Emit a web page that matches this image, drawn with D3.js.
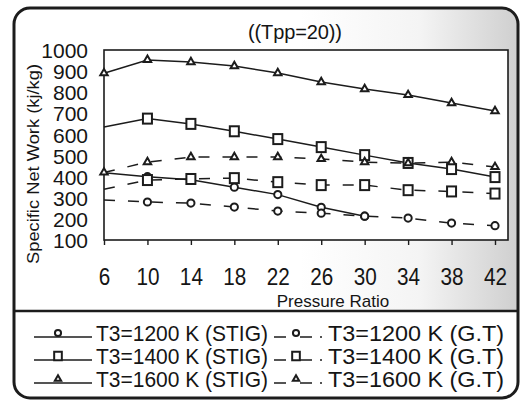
<!DOCTYPE html>
<html>
<head>
<meta charset="utf-8">
<script src="https://cdn.jsdelivr.net/npm/d3@7"></script>
<style>
  body { margin: 0; background: #fff; }
  svg text { font-family: "Liberation Sans", Arial, sans-serif; fill: #151515; }
</style>
</head>
<body>
<svg id="chart" width="525" height="405"></svg>
<script>
// pressure ratios on the x axis
const pressureRatio = [6, 10, 14, 18, 22, 26, 30, 34, 38, 42];
const yTicks = [100, 200, 300, 400, 500, 600, 700, 800, 900, 1000];

// specific net work (kJ/kg)
const stig1200 = [418, 400, 385, 350, 315, 255, 213];
const stig1400 = [635, 675, 650, 615, 578, 540, 502, 465, 436, 398];
const stig1600 = [890, 953, 943, 924, 891, 848, 815, 787, 749, 711];
const gt1200 = [290, 280, 275, 256, 237, 227, 213, 204, 180, 168];
const gt1400 = [340, 384, 389, 393, 374, 360, 360, 336, 330, 320];
const gt1600 = [420, 469, 493, 493, 493, 484, 469, 464, 469, 446];

const seriesNames = ["T3=1200 K (STIG)", "T3=1400 K (STIG)", "T3=1600 K (STIG)",
                     "T3=1200 K (G.T)", "T3=1400 K (G.T)", "T3=1600 K (G.T)"];

let series = [
  {name: seriesNames[0], values: stig1200, shape: "circle", dashed: false},
  {name: seriesNames[1], values: stig1400, shape: "square", dashed: false},
  {name: seriesNames[2], values: stig1600, shape: "triangle", dashed: false},
  {name: seriesNames[3], values: gt1200, shape: "circle", dashed: true},
  {name: seriesNames[4], values: gt1400, shape: "square", dashed: true},
  {name: seriesNames[5], values: gt1600, shape: "triangle", dashed: true}
];

let svg = d3.select("#chart");
let ink = "#1c1c1c";
let plot = {left: 104, top: 50, right: 508, bottom: 240};

let x = d3.scaleLinear().domain([6, 42]).range([plot.left, 495]);
let y = d3.scaleLinear().domain([100, 1000]).range([plot.bottom, plot.top]);

// scan shading on the right hand side
let defs = svg.append("defs");
let grad = defs.append("linearGradient").attr("id", "shade").attr("x1", "0").attr("x2", "1").attr("y1", "0").attr("y2", "0");
grad.append("stop").attr("offset", "0").attr("stop-color", "#fff");
grad.append("stop").attr("offset", "0.55").attr("stop-color", "#f4f4f4");
grad.append("stop").attr("offset", "1").attr("stop-color", "#cfcfcf");
defs.append("clipPath").attr("id", "frameClip")
  .append("rect").attr("x", 14).attr("y", 8).attr("width", 504).attr("height", 390).attr("rx", 16);

svg.append("rect").attr("x", 300).attr("y", 8).attr("width", 218).attr("height", 303)
  .attr("fill", "url(#shade)").attr("clip-path", "url(#frameClip)");

// plot area
svg.append("rect")
  .attr("x", plot.left).attr("y", plot.top)
  .attr("width", plot.right - plot.left).attr("height", plot.bottom - plot.top)
  .attr("fill", "#fff").attr("stroke", ink).attr("stroke-width", 1.6);

// axes
let xAxis = svg.append("g")
  .attr("transform", `translate(0, ${plot.bottom})`)
  .call(d3.axisBottom(x).tickValues(pressureRatio).tickSizeInner(5).tickSizeOuter(0).tickPadding(2));
xAxis.select(".domain").remove();
xAxis.selectAll("line").attr("stroke", ink).attr("stroke-width", 1.4);
xAxis.selectAll("text")
  .attr("y", 45).attr("dy", 0)
  .attr("transform", "scale(0.9,1)")
  .style("font-size", "23px").attr("fill", "#151515");

let yAxis = svg.append("g")
  .attr("transform", `translate(88, 0)`)
  .call(d3.axisLeft(y).tickValues(yTicks).tickFormat(d3.format("d")).tickSize(0).tickPadding(0));
yAxis.select(".domain").remove();
yAxis.selectAll("text")
  .attr("x", 0).attr("dy", "0.36em")
  .style("font-size", "21px").attr("fill", "#151515");

// title and axis titles
svg.append("text").attr("x", 295).attr("y", 39).attr("text-anchor", "middle")
  .style("font-size", "20px").attr("textLength", 94).text("((Tpp=20))");
svg.append("text").attr("x", 333).attr("y", 307).attr("text-anchor", "middle")
  .style("font-size", "17px").text("Pressure Ratio");
svg.append("text")
  .attr("transform", `translate(39, 164) rotate(-90)`)
  .attr("text-anchor", "middle")
  .style("font-size", "16px")
  .attr("textLength", 200).attr("lengthAdjust", "spacingAndGlyphs")
  .text("Specific Net Work (kj/kg)");

// lines
let line = d3.line().x((d) => x(d.x)).y((d) => y(d.v));
let g = svg.append("g");
for (let s of series) {
  let pts = s.values.map((v, i) => ({x: pressureRatio[i], v: v}));
  s.points = pts;
  g.append("path")
    .datum(pts)
    .attr("d", line)
    .attr("fill", "none")
    .attr("stroke", ink)
    .attr("stroke-width", 1.5)
    .attr("stroke-dasharray", s.dashed ? "11,13" : null);
}

let drawMarker = (sel, shape, cx, cy, scale) => {
  let k = scale || 1;
  if (shape === "circle") {
    sel.append("circle").attr("cx", cx).attr("cy", cy).attr("r", 3.6 * k)
      .attr("fill", "#fff").attr("stroke", ink).attr("stroke-width", 2);
  } else if (shape === "square") {
    sel.append("rect").attr("x", cx - 4.5 * k).attr("y", cy - 5 * k).attr("width", 9 * k).attr("height", 10 * k)
      .attr("fill", "#fff").attr("stroke", ink).attr("stroke-width", 2);
  } else {
    sel.append("path").attr("d", d3.symbol(d3.symbolTriangle, 24 * k * k)())
      .attr("transform", `translate(${cx}, ${cy})`)
      .attr("fill", "#fff").attr("stroke", ink).attr("stroke-width", 2);
  }
};

for (let s of series) {
  for (let p of s.points) {
    if (p.x === 6 && s.shape !== "triangle") continue;
    drawMarker(g, s.shape, x(p.x), y(p.v));
  }
}

// frame and legend box
svg.append("rect").attr("x", 14).attr("y", 8).attr("width", 504).attr("height", 390).attr("rx", 16)
  .attr("fill", "none").attr("stroke", ink).attr("stroke-width", 3);
svg.append("line").attr("x1", 14).attr("x2", 518).attr("y1", 311).attr("y2", 311)
  .attr("stroke", ink).attr("stroke-width", 2.5);

let legendRows = [332, 355, 378];
series.forEach((s, i) => {
  let row = legendRows[i % 3];
  let col = i < 3 ? 0 : 1;
  let lg = svg.append("g");
  if (col === 0) {
    lg.append("line").attr("x1", 34).attr("x2", 92).attr("y1", row + 5).attr("y2", row + 5)
      .attr("stroke", ink).attr("stroke-width", 1.3);
    drawMarker(lg, s.shape, 58, row + 1, 0.85);
    lg.append("text").attr("x", 96).attr("y", row + 9)
      .style("font-size", "22px").attr("textLength", 172).attr("lengthAdjust", "spacingAndGlyphs")
      .text(s.name);
  } else {
    lg.append("line").attr("x1", 274).attr("x2", 322).attr("y1", row + 5).attr("y2", row + 5)
      .attr("stroke", ink).attr("stroke-width", 1.3).attr("stroke-dasharray", "12,14,12,8,2");
    drawMarker(lg, s.shape, 296, row + 1, 0.85);
    lg.append("text").attr("x", 328).attr("y", row + 9)
      .style("font-size", "22px").attr("textLength", 176).attr("lengthAdjust", "spacingAndGlyphs")
      .text(s.name);
  }
});
</script>
</body>
</html>
